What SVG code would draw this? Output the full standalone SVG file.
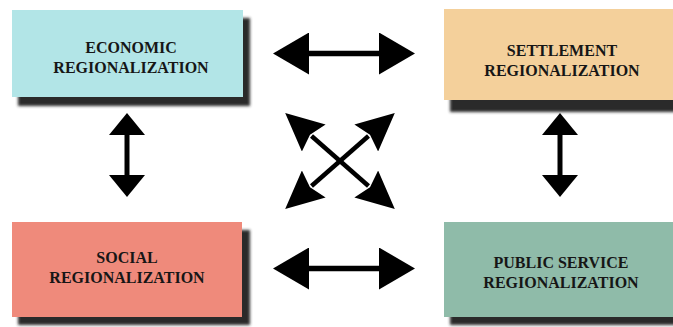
<svg xmlns="http://www.w3.org/2000/svg" width="673" height="327" viewBox="0 0 673 327">
<style>
.lbl{font-family:"Liberation Serif","Times New Roman",serif;font-weight:bold;font-size:16px;fill:#161616;text-anchor:middle}
.shd{fill:#2b2b2b;filter:url(#blur)}
.ln{stroke:#000;fill:none}
</style>
<defs>
<filter id="blur" x="-10%" y="-10%" width="120%" height="130%"><feGaussianBlur stdDeviation="1.8"/></filter>
<marker id="hH" viewBox="0 0 36 42" markerWidth="36" markerHeight="42" refX="0" refY="21" orient="auto-start-reverse" markerUnits="userSpaceOnUse"><path d="M0,0 L36,21 L0,42 Z" fill="#000"/></marker>
<marker id="hV" viewBox="0 0 22 36" markerWidth="22" markerHeight="36" refX="0" refY="18" orient="auto-start-reverse" markerUnits="userSpaceOnUse"><path d="M0,0 L22,18 L0,36 Z" fill="#000"/></marker>
<marker id="hD" viewBox="0 0 38 36" markerWidth="38" markerHeight="36" refX="3" refY="18" orient="auto-start-reverse" markerUnits="userSpaceOnUse"><path d="M0,0 L38,18 L0,36 L5,18 Z" fill="#000"/></marker>
</defs>
<rect width="673" height="327" fill="#fff"/>
<g id="economic">
<rect class="shd" x="18" y="18" width="232" height="88"/>
<rect x="12" y="10" width="231" height="87" fill="#b2e5e7"/>
<text class="lbl" x="131" y="53">ECONOMIC</text>
<text class="lbl" x="131" y="73">REGIONALIZATION</text>
</g>
<g id="settlement">
<rect class="shd" x="450" y="18" width="240" height="94"/>
<rect x="444" y="9" width="235" height="91" fill="#f4d09b"/>
<text class="lbl" x="562" y="56">SETTLEMENT</text>
<text class="lbl" x="562" y="76">REGIONALIZATION</text>
</g>
<g id="social">
<rect class="shd" x="18" y="230" width="232" height="95"/>
<rect x="12" y="222" width="230" height="95" fill="#ef8a7b"/>
<text class="lbl" x="127" y="263">SOCIAL</text>
<text class="lbl" x="127" y="283">REGIONALIZATION</text>
</g>
<g id="public-service">
<rect class="shd" x="450" y="230" width="240" height="95"/>
<rect x="444" y="222" width="235" height="95" fill="#8fbba9"/>
<text class="lbl" x="561" y="268">PUBLIC SERVICE</text>
<text class="lbl" x="561" y="288">REGIONALIZATION</text>
</g>
<g id="connectors">
<line class="ln" x1="309" y1="53.5" x2="379" y2="53.5" stroke-width="5.5" marker-start="url(#hH)" marker-end="url(#hH)"/>
<line class="ln" x1="309" y1="268.5" x2="379" y2="268.5" stroke-width="5.5" marker-start="url(#hH)" marker-end="url(#hH)"/>
<line class="ln" x1="127" y1="135" x2="127" y2="175" stroke-width="5" marker-start="url(#hV)" marker-end="url(#hV)"/>
<line class="ln" x1="560" y1="135" x2="560" y2="175" stroke-width="5" marker-start="url(#hV)" marker-end="url(#hV)"/>
<line class="ln" x1="311.5" y1="136" x2="368.5" y2="186" stroke-width="4.5" marker-start="url(#hD)" marker-end="url(#hD)"/>
<line class="ln" x1="368.5" y1="136" x2="311.5" y2="186" stroke-width="4.5" marker-start="url(#hD)" marker-end="url(#hD)"/>
</g>
</svg>
